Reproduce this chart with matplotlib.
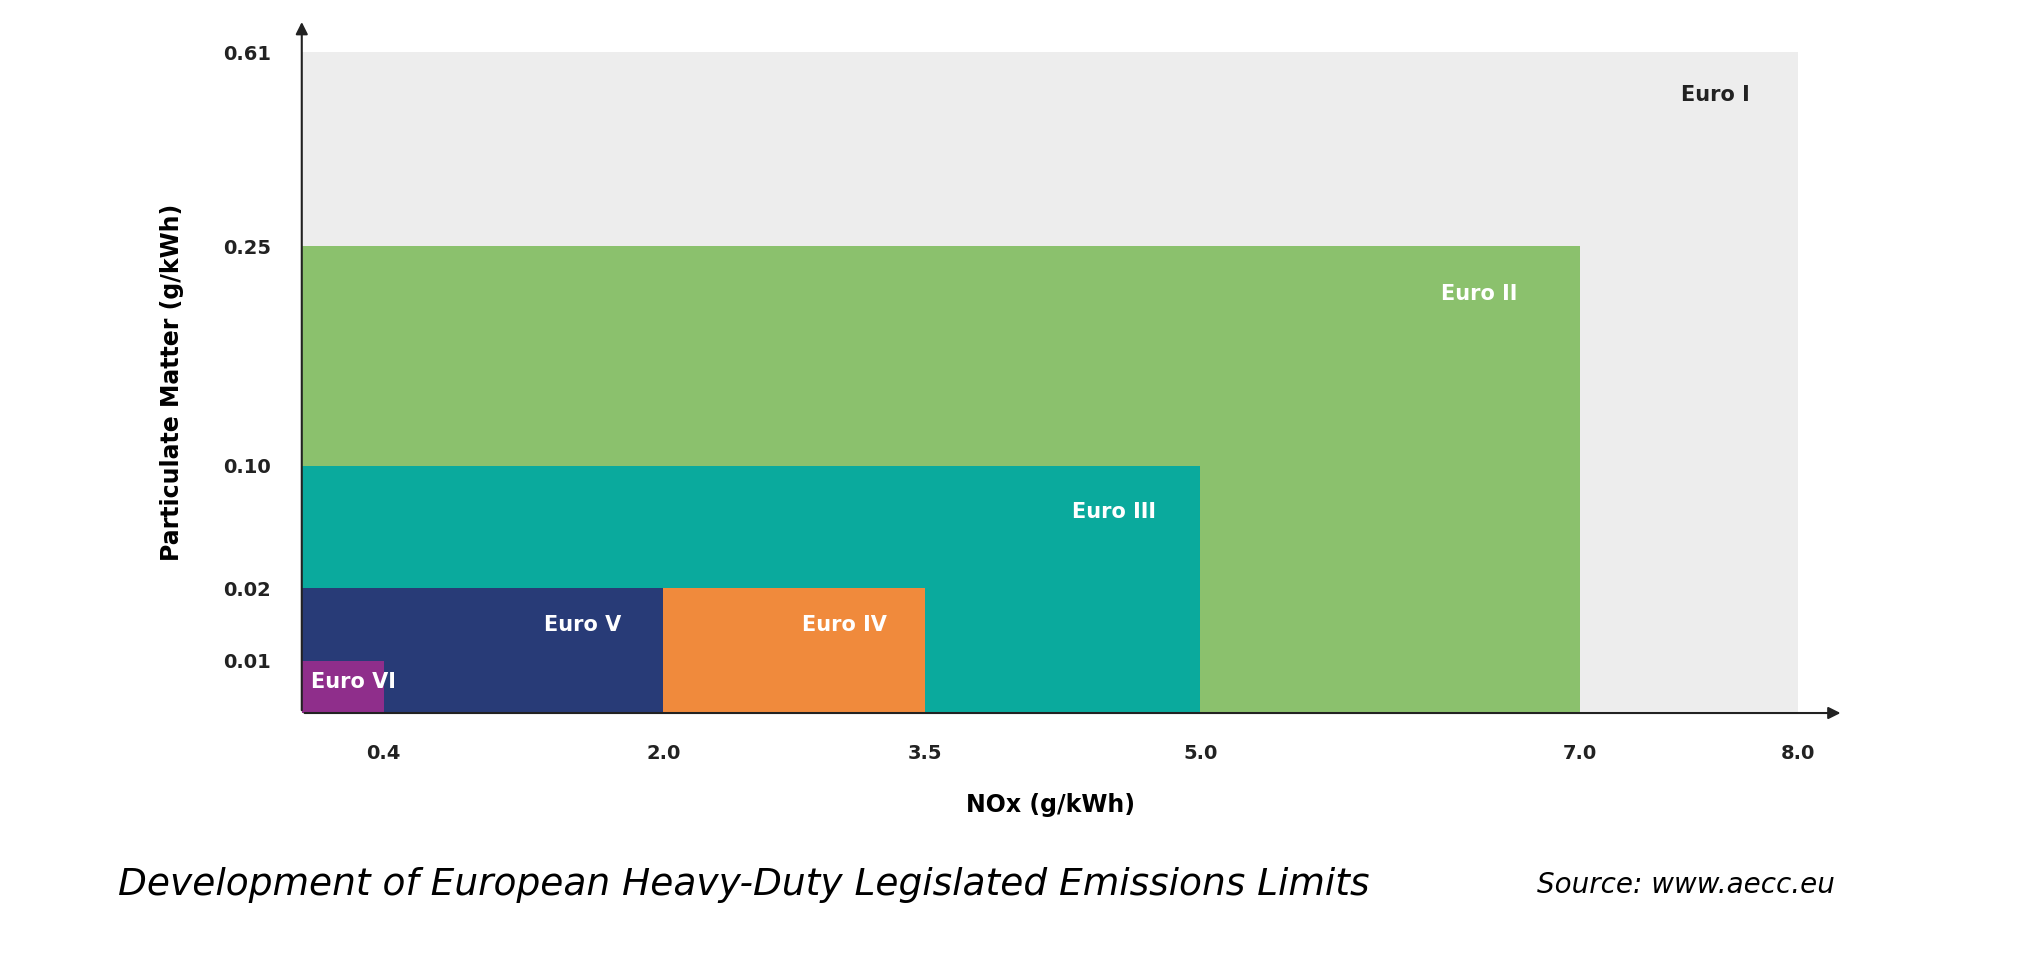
import numpy as np
import matplotlib
matplotlib.use("Agg")
from matplotlib import pyplot as plt

# emission limits (NOx g/kWh, PM g/kWh)
stages = ["Euro I", "Euro II", "Euro III", "Euro IV", "Euro V", "Euro VI"]
nox_from = [0, 0, 0, 2.0, 0, 0]
nox_to = [8.0, 7.0, 5.0, 3.5, 2.0, 0.4]
pm_limit = [0.61, 0.25, 0.10, 0.02, 0.02, 0.01]
colors = ["#ededed", "#8bc16d", "#0aaa9d", "#f08a3c", "#283b77", "#8f2e8b"]
label_x = [7.62, 6.47, 4.53, 3.04, 1.54, 0.25]
label_y = [0.53, 0.217, 0.070, 0.015, 0.015, 0.006]

x_ticks = [0.4, 2.0, 3.5, 5.0, 7.0, 8.0]
y_ticks = [0.01, 0.02, 0.10, 0.25, 0.61]

# non-linear axes as drawn in the original picture
x_vals = [0, 0.4, 2.0, 3.5, 5.0, 7.0, 8.0]
x_pos = [232, 295, 510, 711, 923, 1215, 1383]
y_vals = [0, 0.01, 0.02, 0.10, 0.25, 0.61]
y_pos = [0, 40, 96, 190, 359, 508]

def fx(v): return np.interp(v, x_vals, x_pos)
def ix(p): return np.interp(p, x_pos, x_vals)
def fy(v): return np.interp(v, y_vals, y_pos)
def iy(p): return np.interp(p, y_pos, y_vals)

fig = plt.figure(figsize=(20.39, 9.59), dpi=100)
ax = fig.add_axes([0.148, 0.2565, 0.734, 0.689])
ax.set_xscale("function", functions=(fx, ix))
ax.set_yscale("function", functions=(fy, iy))
ax.set_xlim(0, 8.0)
ax.set_ylim(0, 0.61)

for i, s in enumerate(stages):
    ax.fill_between([nox_from[i], nox_to[i]], 0, pm_limit[i], color=colors[i], lw=0)
    ax.text(label_x[i], label_y[i], s, ha="center", va="center", fontsize=15,
            fontweight="bold", color="#222222" if i == 0 else "white")

for sp in ax.spines.values():
    sp.set_visible(False)
ax.annotate("", xy=(1.03, 0), xytext=(0, 0), xycoords="axes fraction",
            arrowprops=dict(arrowstyle="-|>", color="#222222", lw=1.5, mutation_scale=18))
ax.annotate("", xy=(0, 1.05), xytext=(0, 0), xycoords="axes fraction",
            arrowprops=dict(arrowstyle="-|>", color="#222222", lw=1.5, mutation_scale=18))

ax.set_xticks(x_ticks)
ax.set_xticklabels([f"{v:.1f}" for v in x_ticks])
ax.set_yticks(y_ticks)
ax.set_yticklabels([f"{v:.2f}" for v in y_ticks])
ax.minorticks_off()
ax.tick_params(length=0, labelsize=14, pad=22)
for t in ax.get_xticklabels() + ax.get_yticklabels():
    t.set_fontweight("bold")
    t.set_color("#222222")
ax.set_xlabel("NOx (g/kWh)", fontsize=17, fontweight="bold", labelpad=22)
ax.set_ylabel("Particulate Matter (g/kWh)", fontsize=17, fontweight="bold", labelpad=28)

fig.text(0.058, 0.077, "Development of European Heavy-Duty Legislated Emissions Limits",
         fontsize=27, style="italic", va="center")
fig.text(0.754, 0.077, "Source: www.aecc.eu", fontsize=20, style="italic", va="center")

fig.savefig("out.png", dpi=100)
